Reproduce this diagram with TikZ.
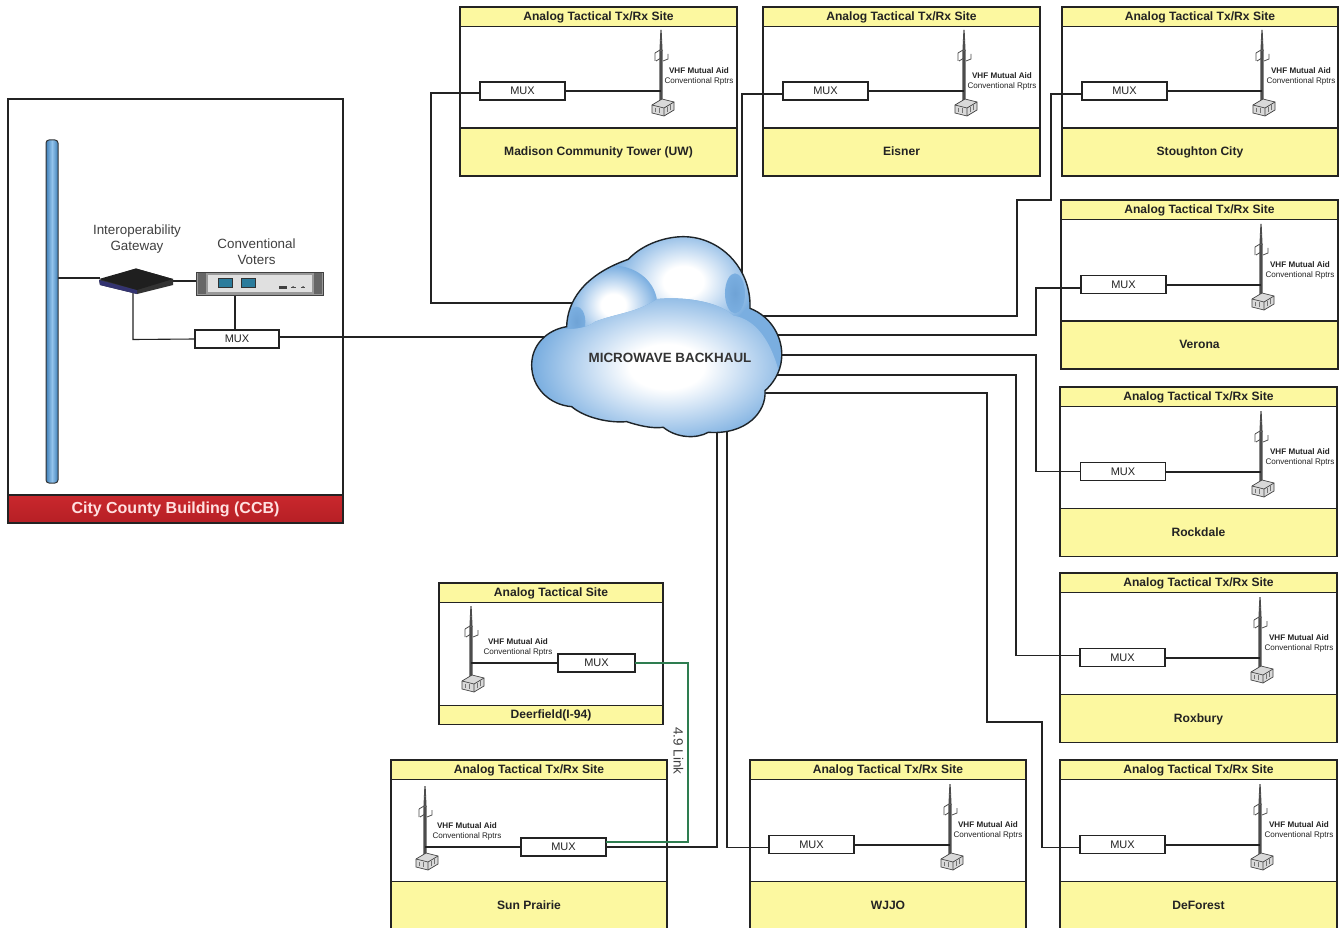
\documentclass[tikz,border=0pt]{standalone}
\usepackage{fontspec}
\setmainfont{Liberation Sans}
\definecolor{ink}{HTML}{232323}
\definecolor{siteyellow}{HTML}{FCF8A0}
\definecolor{cloudblue}{HTML}{7AAEE0}
\definecolor{cloudmid}{HTML}{C4DBF2}
\definecolor{cloudcrease}{HTML}{6FA3D6}
\definecolor{cloudedge}{HTML}{1E2428}
\definecolor{linkgreen}{HTML}{2E7D50}
\definecolor{ccbred}{HTML}{C9282D}
\definecolor{ccbdark}{HTML}{B61F25}
\definecolor{pipeside}{HTML}{3F80B8}
\definecolor{pipemid}{HTML}{93C3EC}
\definecolor{screenblue}{HTML}{2B7C9C}
\pgfdeclareradialshading{cloudglow}{\pgfpoint{0bp}{0bp}}{color(0bp)=(white); color(7bp)=(white); color(15bp)=(cloudmid); color(25bp)=(cloudblue); color(50bp)=(cloudblue)}
\tikzset{
  x=1pt,y=-1pt,
  boxln/.style={draw=ink,line width=1.1pt},
  cell/.style={boxln,inner sep=0pt,outer sep=0pt,anchor=north west},
  titlebox/.style={cell,fill=siteyellow,text=ink,text height=9.6pt,text depth=1.4pt,font=\fontsize{12.1}{13}\selectfont\bfseries},
  namebox/.style={cell,fill=siteyellow,text=ink,text height=9.4pt,text depth=1.6pt,font=\fontsize{12.1}{13}\selectfont\bfseries},
  bodybox/.style={cell,fill=white},
  muxbox/.style={boxln,fill=white,inner sep=0pt,outer sep=0pt,text=ink,font=\fontsize{11}{13}\selectfont},
  rptr/.style={inner sep=0pt,align=center,text=ink,font=\fontsize{8.1}{10}\selectfont},
  wire/.style={draw=ink,line width=1.1pt},
  greenwire/.style={draw=linkgreen,line width=1.4pt},
  gwlabel/.style={inner sep=0pt,align=center,text=black!75,font=\fontsize{13.4}{16}\selectfont},
}
% id, L, R, T, title, name, body height, name height
\newcommand{\SiteBox}[8]{%
  \pgfmathsetmacro{\sitewd}{#3-#2}%
  \node[titlebox,minimum width=\sitewd pt,minimum height=19.5pt] (#1-title) at (#2,#4) {#5};
  \node[bodybox,minimum width=\sitewd pt,minimum height=#7 pt] (#1-body) at (#1-title.south west) {};
  \node[namebox,minimum width=\sitewd pt,minimum height=#8 pt] (#1-name) at (#1-body.south west) {#6};
}
% id, x, top y, mast bottom y
\newcommand{\MastIcon}[4]{%
  \fill[black!70] (#2-1.6,#3+22) -- (#2-0.6,#3) -- (#2+0.6,#3) -- (#2+1.6,#3+22) -- (#2+1.7,#4) -- (#2-1.7,#4) -- cycle;
  \draw[black!60,line width=0.5pt] (#2-1.3,#3+10) -- (#2+1.3,#3+10) (#2-1.5,#3+20) -- (#2+1.5,#3+20);
  \draw[black!70,line width=0.8pt] (#2-6,#3+23) -- (#2-6,#3+31) (#2-6,#3+23) -- (#2-1,#3+20) (#2-5,#3+31) -- (#2,#3+28) (#2+2,#3+31) -- (#2+7,#3+29) -- (#2+7,#3+24);
  \filldraw[fill=black!15,draw=black!75,line width=0.7pt] (#2-9,#4-2) -- (#2+1,#4-8) -- (#2+13,#4-5) -- (#2+13,#4+3) -- (#2+3,#4+9) -- (#2-9,#4+6) -- cycle;
  \draw[black!75,line width=0.7pt] (#2-9,#4-2) -- (#2+3,#4+1) -- (#2+13,#4-5) (#2+3,#4+1) -- (#2+3,#4+9);
  \draw[black!55,line width=0.5pt] (#2-6,#4+1) -- (#2-6,#4+5) (#2-2,#4+1) -- (#2-2,#4+6) (#2+6,#4) -- (#2+6,#4+5) (#2+9,#4-2) -- (#2+9,#4+3);
  \coordinate (#1-tower) at (#2,#4-22);
}
% id, cx, cy, width, height
\newcommand{\Mux}[5]{\node[muxbox,minimum width=#4 pt,minimum height=#5 pt] (#1-mux) at (#2,#3) {MUX};}
% id, cx, cy
\newcommand{\Rptr}[3]{\node[rptr] (#1-rptr) at (#2,#3) {\textbf{VHF Mutual Aid}\\Conventional Rptrs};}
\begin{document}
\begin{tikzpicture}
\clip (0,0) rectangle (1344,928);
\useasboundingbox (0,0) rectangle (1344,928);
\fill[white] (0,0) rectangle (1344,928);

% ---------- CCB ----------
\node[cell,fill=white,minimum width=335pt,minimum height=396pt] (ccb) at (8,99) {};
\node[cell,top color=ccbred,bottom color=ccbdark,text=white!88!red,minimum width=335pt,minimum height=28pt,font=\fontsize{16}{18}\selectfont\bfseries] (ccb-name) at (ccb.south west) {City County Building (CCB)};

% ---------- Sites ----------
\SiteBox{mad}{460}{737}{7}{Analog Tactical Tx/Rx Site}{Madison Community Tower (UW)}{101.5}{48}
\SiteBox{eis}{763}{1040}{7}{Analog Tactical Tx/Rx Site}{Eisner}{101.5}{48}
\SiteBox{sto}{1062}{1338}{7}{Analog Tactical Tx/Rx Site}{Stoughton City}{101.5}{48}
\SiteBox{ver}{1061}{1338}{200}{Analog Tactical Tx/Rx Site}{Verona}{101.5}{48}
\SiteBox{roc}{1060}{1337}{387}{Analog Tactical Tx/Rx Site}{Rockdale}{102}{48}
\SiteBox{rox}{1060}{1337}{573}{Analog Tactical Tx/Rx Site}{Roxbury}{102}{48}
\SiteBox{def}{1060}{1337}{760}{Analog Tactical Tx/Rx Site}{DeForest}{102}{48}
\SiteBox{wjj}{750}{1026}{760}{Analog Tactical Tx/Rx Site}{WJJO}{102}{48}
\SiteBox{sun}{391}{667}{760}{Analog Tactical Tx/Rx Site}{Sun Prairie}{102}{48}
\SiteBox{dee}{439}{663}{583}{Analog Tactical Site}{Deerfield(I-94)}{103}{19}

% ---------- Towers ----------
\MastIcon{mad}{661}{30}{107}
\MastIcon{eis}{964}{30}{107}
\MastIcon{sto}{1262}{30}{107}
\MastIcon{ver}{1261}{224}{301}
\MastIcon{roc}{1261}{411}{488}
\MastIcon{rox}{1260}{597}{674}
\MastIcon{def}{1260}{784}{861}
\MastIcon{wjj}{950}{784}{861}
\MastIcon{sun}{425}{786}{861}
\MastIcon{dee}{471}{606}{683}

% ---------- Repeater text ----------
\Rptr{mad}{699}{76.5}
\Rptr{eis}{1002}{81.5}
\Rptr{sto}{1301}{76.5}
\Rptr{ver}{1300}{270.5}
\Rptr{roc}{1300}{457.5}
\Rptr{rox}{1299}{643.5}
\Rptr{def}{1299}{830.5}
\Rptr{wjj}{988}{830.5}
\Rptr{sun}{467}{831.5}
\Rptr{dee}{518}{647.5}

% ---------- Wires inside sites (under MUX boxes) ----------
\draw[wire] (661,91) -- (565,91);
\draw[wire] (964,91) -- (868,91);
\draw[wire] (1262,91) -- (1167,91);
\draw[wire] (1261,285) -- (1166,285);
\draw[wire] (1261,472) -- (1166,472);
\draw[wire] (1260,658) -- (1165,658);
\draw[wire] (1260,845) -- (1165,845);
\draw[wire] (950,845) -- (854,845);
\draw[wire] (425,847) -- (521,847);
\draw[wire] (471,663) -- (558,663);

% ---------- MUX ----------
\Mux{mad}{522.5}{91}{85}{18}
\Mux{eis}{825.5}{91}{85}{18}
\Mux{sto}{1124.5}{91}{85}{18}
\Mux{ver}{1123.5}{284.5}{85}{18}
\Mux{roc}{1123}{471.5}{85}{18}
\Mux{rox}{1122.5}{657.5}{85}{18}
\Mux{def}{1122.5}{844.5}{85}{18}
\Mux{wjj}{811.5}{844.5}{85}{18}
\Mux{sun}{563.5}{847}{85}{18}
\Mux{dee}{596.5}{663}{77}{18}
\Mux{ccb}{237}{339}{84}{18}

% ---------- Cloud anchor coordinates ----------
\coordinate (c-mad) at (590,303);
\coordinate (c-eis) at (742,290);
\coordinate (c-sto) at (760,316);
\coordinate (c-ver) at (760,335);
\coordinate (c-roc) at (760,355);
\coordinate (c-rox) at (760,375);
\coordinate (c-def) at (750,393);
\coordinate (c-wjj) at (727,425);
\coordinate (c-sun) at (717,425);
\coordinate (c-ccb) at (560,337);

% ---------- Connectors ----------
\draw[wire] ([yshift=-2pt]mad-mux.west) -- (431,93) -- (431,303) -- (c-mad);
\draw[wire] ([yshift=-3pt]eis-mux.west) -- (742,94) -- (c-eis);
\draw[wire] ([yshift=-3pt]sto-mux.west) -- (1051,94) -- (1051,200) -- (1017,200) -- (1017,316) -- (c-sto);
\draw[wire] ([yshift=-3.5pt]ver-mux.west) -- (1036,288) -- (1036,335) -- (c-ver);
\draw[wire] (roc-mux.west) -- (1036,471.5) -- (1036,355) -- (c-roc);
\draw[wire] ([yshift=2pt]rox-mux.west) -- (1016,655.5) -- (1016,375) -- (c-rox);
\draw[wire] ([yshift=-3pt]def-mux.west) -- (1042,847.5) -- (1042,722) -- (987,722) -- (987,393) -- (c-def);
\draw[wire] ([yshift=-3pt]wjj-mux.west) -- (727,847.5) -- (c-wjj);
\draw[wire] (sun-mux.east) -- (717,847) -- (c-sun);
\draw[greenwire] (dee-mux.east) -- (688,663) -- (688,842) -- ([yshift=5pt]sun-mux.east);
\node[gwlabel,rotate=-90] (link) at (678.5,751) {4.9 Link};

% ---------- CCB contents ----------
\coordinate (pipe-j) at (52,278);
\draw[wire] (pipe-j) -- (100,278);
\draw[wire] (170,281) -- (197,281);
\draw[wire] (235,292) -- (235,330);
\draw[wire] (133,292) -- (133,339.5) -- (ccb-mux.west);
\draw[wire] ([yshift=2pt]ccb-mux.east) -- (c-ccb);

% pipe
\node[draw=black!80,line width=1pt,rounded corners=3pt,left color=pipeside,right color=pipeside,middle color=pipemid,minimum width=12pt,minimum height=343pt,inner sep=0pt] (pipe) at (52,311.5) {};

% gateway
\fill[black!80] (99,280) -- (136,268.5) -- (173,279) -- (173,285) -- (137,294) -- (100,285) -- cycle;
\fill[black!60!blue!60!gray] (99,280) -- (137,290) -- (137,294) -- (100,285) -- cycle;
\fill[black!88] (99,279) -- (136,268.5) -- (173,279) -- (137,290) -- cycle;
\node[gwlabel] (gwtext) at (137,239.5) {Interoperability\\Gateway};

% voters
\node[draw=black!75,line width=1pt,fill=black!40,minimum width=127pt,minimum height=23pt,inner sep=0pt] (voters) at (259.5,283.5) {};
\fill[black!60] (198,273) rectangle (206,294);
\fill[black!60] (314,273) rectangle (322,294);
\fill[black!12] (208,275) rectangle (312,292);
\filldraw[fill=screenblue,draw=black!80,line width=0.6pt] (218,278) rectangle (232,287.5);
\filldraw[fill=screenblue,draw=black!80,line width=0.6pt] (241,278) rectangle (255,287.5);
\fill[black!75] (279,286) rectangle (287,289);
\fill[black!70] (293,287) circle (1pt) (303,287) circle (1pt);
\draw[black!70,line width=0.5pt] (291,287) -- (296,287) (301,287) -- (305,287);
\node[gwlabel] (votertext) at (256.5,251.5) {Conventional\\Voters};

% ---------- Cloud ----------
\begin{scope}[shift={(520,225)},x=0.3333pt,y=-0.3333pt]
  \def\cloudpath{(140,305) .. controls (142,230) and (190,150) .. (325,103)
    .. controls (370,55) and (440,35) .. (490,35)
    .. controls (600,35) and (695,130) .. (690,250)
    .. controls (755,275) and (790,340) .. (785,400)
    .. controls (782,445) and (755,480) .. (735,497)
    .. controls (740,560) and (680,630) .. (565,622)
    .. controls (530,642) and (470,640) .. (430,607)
    .. controls (395,612) and (350,600) .. (320,590)
    .. controls (260,595) and (190,575) .. (155,545)
    .. controls (90,540) and (35,490) .. (35,420)
    .. controls (35,360) and (80,315) .. (140,305) -- cycle}
  \begin{scope}
    \clip \cloudpath;
    \fill[cloudblue] (0,0) rectangle (840,680);
    \shade[shading=cloudglow] (490,170) ellipse (215 and 165);
    \shade[inner color=cloudcrease,outer color=cloudblue] (645,205) ellipse (30 and 60);
    \shade[shading=cloudglow] (280,240) ellipse (132 and 118);
    \shade[inner color=cloudcrease,outer color=cloudblue] (170,290) ellipse (26 and 45);
    \begin{scope}
      \clip (20,290) .. controls (100,320) and (190,320) .. (225,290)
       .. controls (300,262) and (345,265) .. (412,222)
       .. controls (480,215) and (590,225) .. (640,272)
       .. controls (700,280) and (800,350) .. (800,660)
       -- (20,660) -- cycle;
      \fill[cloudblue] (0,0) rectangle (840,680);
      \shade[shading=cloudglow] (440,425) ellipse (400 and 240);
    \end{scope}
  \end{scope}
  \draw[cloudedge,line width=1.4pt] \cloudpath;
\end{scope}
\node[inner sep=0pt,text=black!80,font=\fontsize{13.4}{15}\selectfont\bfseries] (cloud) at (670,357.5) {MICROWAVE BACKHAUL};
\end{tikzpicture}
\end{document}
